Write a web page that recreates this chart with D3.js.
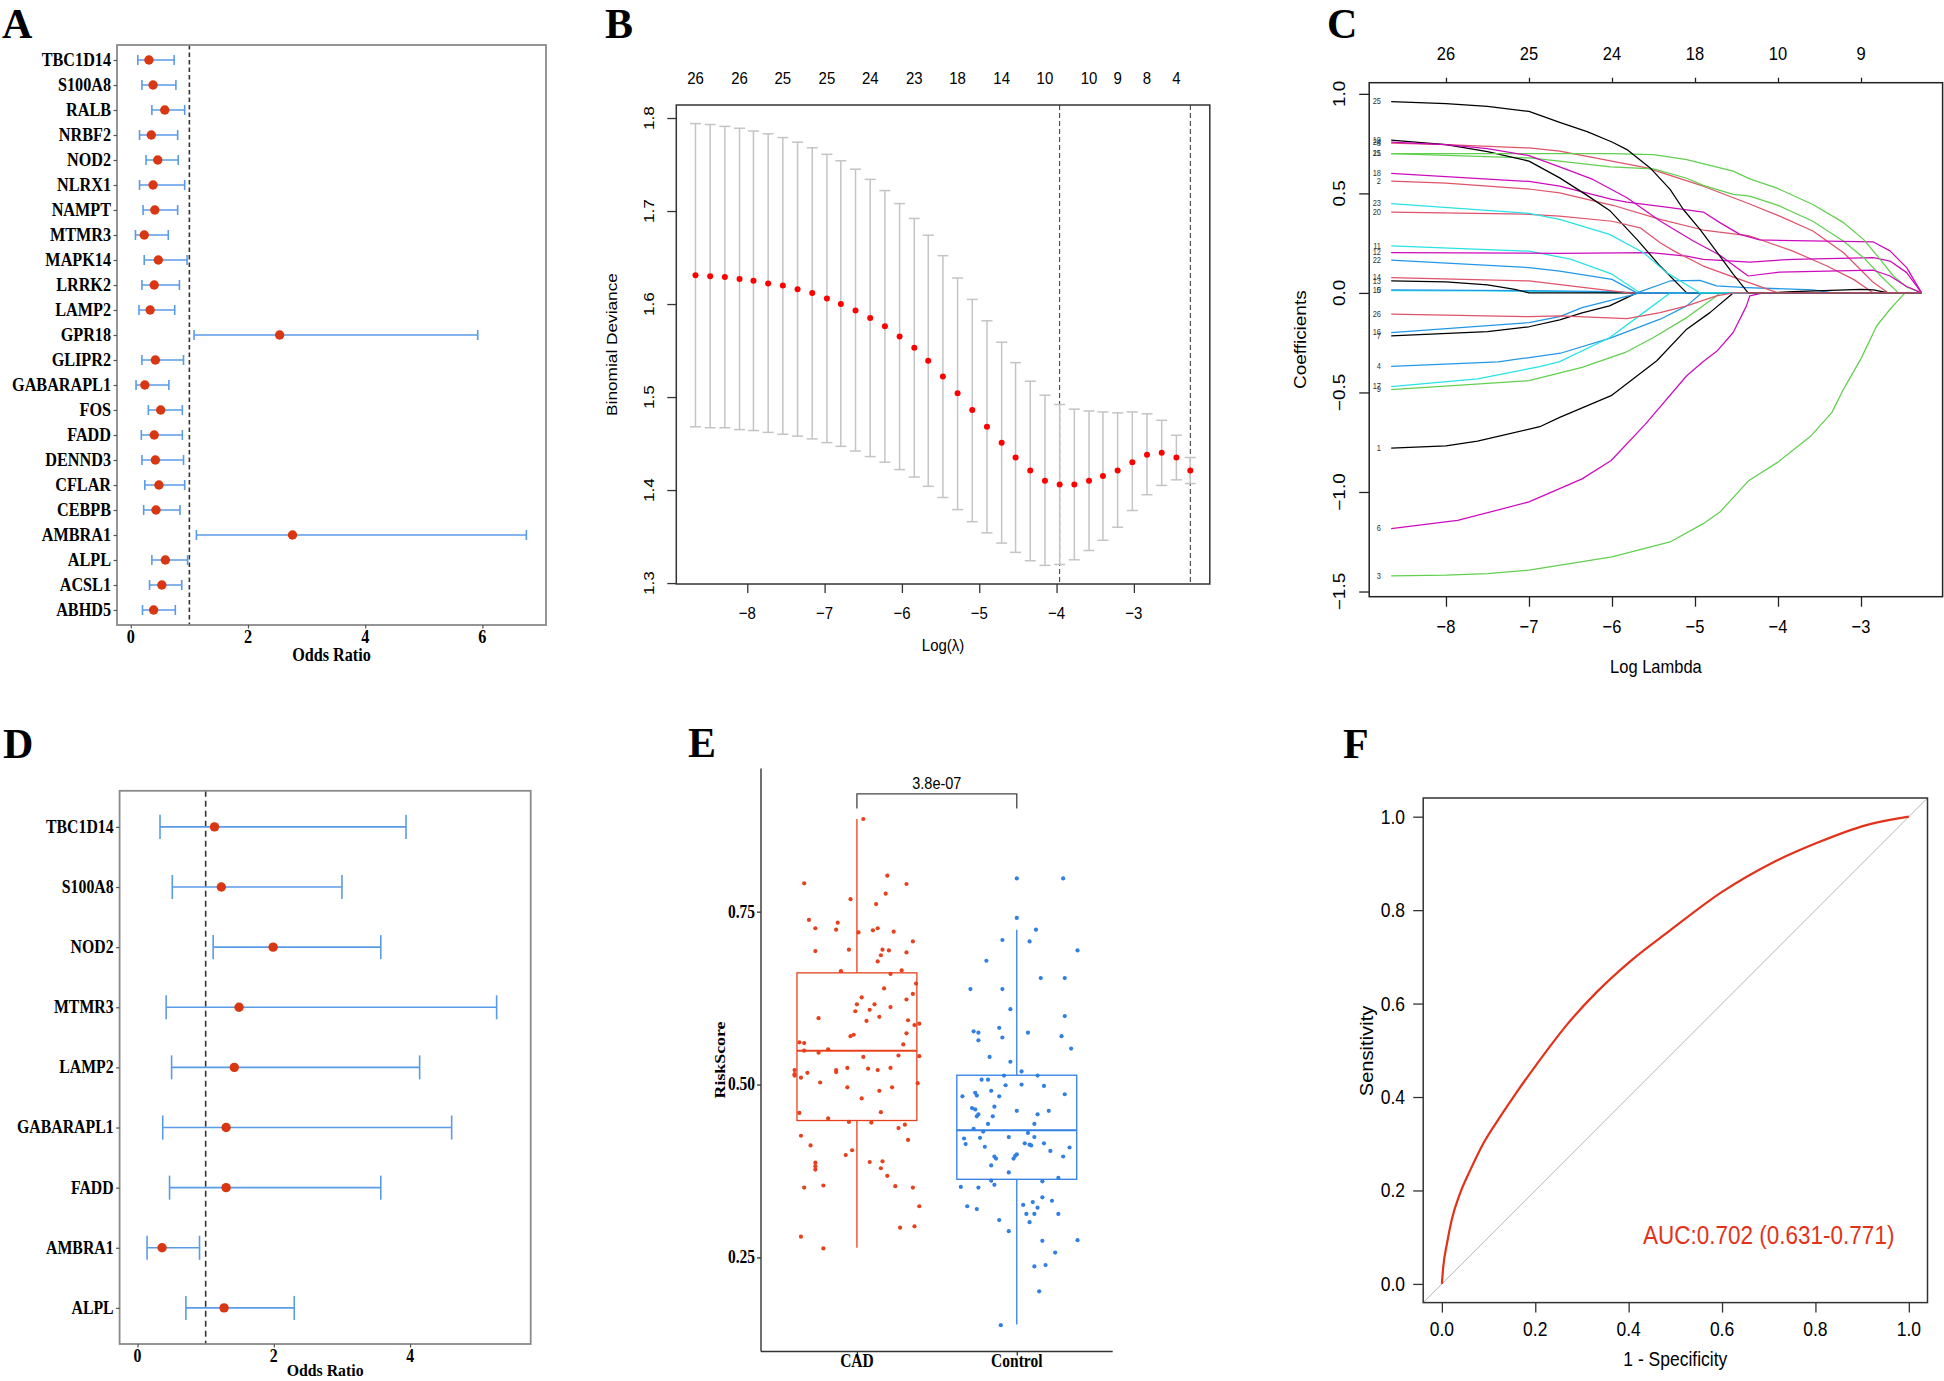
<!DOCTYPE html>
<html><head><meta charset="utf-8">
<script src="https://cdn.jsdelivr.net/npm/d3@7"></script>
<style>body{margin:0;background:#fff}svg{display:block}</style>
</head><body>
<svg id="fig" width="1944" height="1381"></svg>
<script>
// ---------------- DATA ----------------
// Panel A: univariate odds ratios
const aGenes = ["TBC1D14","S100A8","RALB","NRBF2","NOD2","NLRX1","NAMPT","MTMR3","MAPK14","LRRK2","LAMP2","GPR18","GLIPR2","GABARAPL1","FOS","FADD","DENND3","CFLAR","CEBPB","AMBRA1","ALPL","ACSL1","ABHD5"];
const aOR   = [0.31,0.38,0.58,0.35,0.46,0.38,0.41,0.23,0.47,0.40,0.33,2.54,0.42,0.24,0.51,0.40,0.42,0.48,0.43,2.76,0.59,0.53,0.39];
const aLow  = [0.12,0.19,0.36,0.15,0.26,0.15,0.21,0.08,0.23,0.19,0.14,1.08,0.19,0.09,0.30,0.18,0.19,0.24,0.22,1.12,0.36,0.32,0.20];
const aHigh = [0.74,0.77,0.92,0.80,0.81,0.92,0.80,0.64,0.96,0.83,0.75,5.92,0.90,0.65,0.88,0.88,0.90,0.92,0.84,6.75,0.97,0.87,0.76];
const aTicks = [0,2,4,6];

// Panel B: cross-validation curve
const bLogLambda = [-8.67,-8.48,-8.29,-8.10,-7.92,-7.73,-7.54,-7.35,-7.16,-6.97,-6.79,-6.60,-6.41,-6.22,-6.03,-5.84,-5.66,-5.47,-5.28,-5.09,-4.90,-4.71,-4.53,-4.34,-4.15,-3.96,-3.77,-3.58,-3.40,-3.21,-3.02,-2.83,-2.64,-2.45,-2.27];
const bMean  = [1.631,1.630,1.629,1.627,1.625,1.622,1.620,1.616,1.612,1.606,1.600,1.593,1.585,1.576,1.565,1.553,1.539,1.522,1.504,1.486,1.468,1.451,1.435,1.421,1.410,1.406,1.406,1.410,1.415,1.421,1.430,1.438,1.440,1.435,1.421];
const bUpper = [1.794,1.793,1.791,1.789,1.786,1.783,1.779,1.774,1.768,1.761,1.754,1.745,1.734,1.722,1.708,1.692,1.674,1.652,1.628,1.605,1.582,1.559,1.537,1.517,1.502,1.492,1.487,1.485,1.484,1.483,1.484,1.482,1.475,1.459,1.435];
const bLower = [1.468,1.467,1.467,1.465,1.464,1.462,1.460,1.458,1.455,1.451,1.447,1.442,1.436,1.430,1.422,1.414,1.404,1.392,1.379,1.366,1.354,1.343,1.333,1.324,1.319,1.320,1.325,1.335,1.346,1.360,1.378,1.395,1.405,1.411,1.407];
const bVLines = [-3.96,-2.27];
const bNzeroAt = [-8.67,-8.10,-7.54,-6.97,-6.41,-5.84,-5.28,-4.71,-4.15,-3.58,-3.21,-2.83,-2.45];
const bNzero = ["26","26","25","25","24","23","18","14","10","10","9","8","4"];
const bYTicks = [1.3,1.4,1.5,1.6,1.7,1.8];
const bXTicks = [-8,-7,-6,-5,-4,-3];

// Panel C: coefficient paths (variable 1..26), [logLambda, coefficient]
const cPaths = [
 [[-8.66,-0.78],[-8,-0.768],[-7.62,-0.745],[-6.87,-0.672],[-6.63,-0.625],[-6.01,-0.516],[-5.46,-0.341],[-5.10,-0.182],[-4.82,-0.099],[-4.54,0],[-2.27,0]],
 [[-8.66,0.561],[-8,0.551],[-7,0.522],[-6.63,0.503],[-5.98,0.439],[-5.42,0.369],[-4.90,0.316],[-4.34,0.286],[-3.82,0.21],[-3.41,0.135],[-3.09,0.068],[-2.85,0],[-2.27,0]],
 [[-8.66,-1.422],[-8,-1.418],[-7.5,-1.41],[-7.0,-1.393],[-6.0,-1.326],[-5.3,-1.251],[-4.9,-1.159],[-4.7,-1.101],[-4.35,-0.942],[-4.0,-0.85],[-3.6,-0.717],[-3.35,-0.6],[-3.21,-0.483],[-3.0,-0.33],[-2.81,-0.165],[-2.65,-0.082],[-2.47,0],[-2.27,0]],
 [[-8.66,-0.369],[-7.37,-0.346],[-6.62,-0.303],[-6.03,-0.228],[-5.42,-0.132],[-5.10,-0.065],[-4.92,0],[-2.27,0]],
 [[-8.66,0.012],[-7.5,0.01],[-6.5,0.006],[-6.0,0],[-2.27,0]],
 [[-8.66,-1.184],[-7.86,-1.143],[-7.0,-1.05],[-6.36,-0.934],[-6.01,-0.842],[-5.6,-0.66],[-5.1,-0.416],[-4.9,-0.345],[-4.73,-0.29],[-4.54,-0.199],[-4.38,-0.065],[-4.34,-0.015],[-4.18,0],[-2.27,0]],
 [[-8.66,-0.216],[-7.5,-0.195],[-7.0,-0.17],[-6.63,-0.135],[-6.36,-0.1],[-6.03,-0.065],[-5.7,0],[-2.27,0]],
 [[-8.66,0.752],[-8,0.745],[-7,0.728],[-6.63,0.712],[-5.58,0.628],[-4.90,0.536],[-4.38,0.453],[-3.98,0.386],[-3.58,0.311],[-3.21,0.202],[-3.01,0.119],[-2.85,0.052],[-2.67,0],[-2.27,0]],
 [[-8.66,-0.486],[-7.0,-0.441],[-6.36,-0.374],[-5.84,-0.299],[-5.5,-0.224],[-5.10,-0.124],[-4.74,-0.015],[-4.70,0],[-2.27,0]],
 [[-8.66,0.015],[-7,0.012],[-6,0.006],[-5.7,0],[-5.30,0.06],[-4.94,0.063],[-4.74,0.035],[-4.38,0.027],[-3.58,0.015],[-3.33,0],[-2.27,0]],
 [[-8.66,0.236],[-7,0.21],[-6.5,0.17],[-6.0,0.094],[-5.66,0],[-2.27,0]],
 [[-8.66,0.202],[-6.63,0.199],[-5.54,0.202],[-5.10,0.185],[-4.90,0.169],[-4.34,0.155],[-3.82,0.169],[-2.85,0.177],[-2.65,0.16],[-2.45,0.102],[-2.27,0]],
 [[-8.66,0.06],[-8,0.055],[-7.5,0.04],[-7.17,0.018],[-7.0,0],[-4.1,0],[-3.82,0.007],[-3.0,0.018],[-2.85,0.015],[-2.67,0],[-2.27,0]],
 [[-8.66,0.077],[-7,0.06],[-6.5,0.035],[-6,0.01],[-5.8,0],[-2.27,0]],
 [[-8.66,0.70],[-7,0.678],[-6.63,0.662],[-6.02,0.633],[-5.5,0.623],[-5.10,0.576],[-4.90,0.54],[-4.54,0.495],[-4.34,0.486],[-4.0,0.44],[-3.58,0.36],[-3.21,0.26],[-2.95,0.17],[-2.75,0.08],[-2.55,0],[-2.27,0]],
 [[-8.66,-0.199],[-7,-0.149],[-6.63,-0.119],[-6.36,-0.074],[-5.66,0],[-2.27,0]],
 [[-8.66,-0.471],[-7.62,-0.432],[-6.87,-0.37],[-6.63,-0.345],[-6.03,-0.225],[-5.62,-0.099],[-5.30,0],[-2.27,0]],
 [[-8.66,0.60],[-7,0.56],[-6.63,0.536],[-6,0.47],[-5.82,0.456],[-5.30,0.428],[-4.90,0.406],[-4.70,0.353],[-4.46,0.294],[-4.22,0.266],[-2.85,0.256],[-2.65,0.211],[-2.45,0.127],[-2.27,0]],
 [[-8.66,0.767],[-8,0.745],[-7.5,0.71],[-7,0.662],[-6.63,0.578],[-6.3,0.49],[-6.02,0.411],[-5.7,0.269],[-5.42,0.135],[-5.1,0],[-2.27,0]],
 [[-8.66,0.406],[-7,0.395],[-6.63,0.386],[-6,0.36],[-5.66,0.327],[-5.42,0.252],[-5.25,0.21],[-4.90,0.135],[-4.46,0.068],[-4.0,0],[-2.27,0]],
 [[-8.66,0.70],[-7,0.70],[-6.63,0.70],[-6.0,0.70],[-5.5,0.695],[-5.10,0.67],[-4.54,0.612],[-4.34,0.573],[-4.02,0.528],[-3.58,0.444],[-3.21,0.353],[-2.97,0.269],[-2.77,0.169],[-2.61,0.085],[-2.45,0.03],[-2.27,0]],
 [[-8.66,0.165],[-7,0.127],[-6.63,0.110],[-6,0.068],[-5.7,0],[-2.27,0]],
 [[-8.66,0.449],[-7,0.40],[-6.63,0.369],[-6.03,0.294],[-5.62,0.202],[-5.34,0.102],[-4.94,0],[-2.27,0]],
 [[-8.66,0.757],[-8,0.745],[-7.5,0.725],[-7,0.69],[-6.63,0.633],[-6.23,0.57],[-5.82,0.478],[-5.42,0.361],[-5.02,0.261],[-4.70,0.189],[-4.36,0.085],[-3.98,0.105],[-3.41,0.11],[-2.85,0.114],[-2.65,0.085],[-2.45,0.032],[-2.27,0]],
 [[-8.66,0.961],[-8,0.951],[-7.5,0.937],[-7,0.912],[-6.63,0.857],[-6.3,0.81],[-6,0.758],[-5.82,0.72],[-5.54,0.628],[-5.3,0.52],[-5.14,0.419],[-4.94,0.319],[-4.7,0.185],[-4.54,0.094],[-4.36,0],[-2.27,0]],
 [[-8.66,-0.107],[-7,-0.119],[-6.63,-0.115],[-5.82,-0.129],[-5.42,-0.099],[-5.10,-0.065],[-4.74,-0.015],[-4.54,0],[-2.27,0]]
];
const cXTicks = [-8,-7,-6,-5,-4,-3];
const cTopLabels = ["26","25","24","18","10","9"];
const cYTicks = [-1.5,-1.0,-0.5,0.0,0.5,1.0];

// Panel D: multivariate odds ratios
const dGenes = ["TBC1D14","S100A8","NOD2","MTMR3","LAMP2","GABARAPL1","FADD","AMBRA1","ALPL"];
const dOR   = [1.13,1.23,1.99,1.49,1.42,1.30,1.30,0.36,1.27];
const dLow  = [0.33,0.51,1.11,0.42,0.50,0.37,0.47,0.14,0.71];
const dHigh = [3.94,3.00,3.57,5.27,4.14,4.61,3.57,0.91,2.30];
const dTicks = [0,2,4];

// Panel E: risk score box plot
const eGroups = ["CAD","Control"];
const eWhiskLo = [0.264,0.153];
const eQ1      = [0.448,0.363];
const eMedian  = [0.549,0.434];
const eQ3      = [0.6615,0.5135];
const eWhiskHi = [0.884,0.724];
const ePValue = "3.8e-07";
const eYTicks = [0.25,0.50,0.75];
const cadScore = [0.884,0.791,0.802,0.790,0.768,0.776,0.761,0.738,0.734,0.726,
 0.724,0.720,0.723,0.726,0.721,0.707,0.693,0.695,0.695,0.694,
 0.691,0.687,0.678,0.664,0.665,0.660,0.646,0.639,0.631,0.626,
 0.623,0.616,0.616,0.606,0.608,0.612,0.596,0.592,0.598,0.593,
 0.586,0.588,0.574,0.572,0.570,0.561,0.560,0.558,0.549,0.551,
 0.546,0.540,0.542,0.541,0.521,0.515,0.513,0.517,0.510,0.521,
 0.518,0.524,0.523,0.521,0.524,0.503,0.502,0.496,0.496,0.491,
 0.480,0.459,0.451,0.460,0.446,0.445,0.442,0.437,0.426,0.420,
 0.412,0.398,0.405,0.387,0.382,0.377,0.388,0.389,0.379,0.368,
 0.351,0.354,0.353,0.351,0.324,0.293,0.295,0.280,0.263];
const cadJitter = [0.04,-0.33,0.19,0.31,-0.04,0.18,0.12,-0.30,-0.12,-0.26,
 -0.13,0.01,0.10,0.13,0.23,0.35,-0.26,-0.05,0.16,0.20,
 0.31,0.15,0.13,-0.10,0.28,0.21,0.37,0.17,0.35,0.03,
 0.31,0.00,0.11,-0.01,0.08,0.21,-0.24,0.06,0.14,0.32,
 0.36,0.39,0.31,-0.02,-0.04,-0.36,-0.33,0.29,-0.33,-0.18,
 -0.24,0.04,0.26,0.39,-0.39,-0.39,-0.39,-0.31,-0.35,-0.13,
 -0.13,-0.06,0.07,0.13,0.21,-0.23,0.38,-0.06,0.22,0.14,
 0.03,-0.36,-0.18,0.15,-0.05,0.09,0.30,0.26,-0.35,0.32,
 -0.29,-0.07,-0.03,-0.26,-0.26,-0.26,0.08,0.16,0.15,0.19,
 -0.33,-0.21,0.24,0.35,0.39,0.27,0.36,-0.35,-0.21];
const ctrlScore = [0.798,0.798,0.741,0.709,0.724,0.707,0.694,0.679,0.654,0.654,
 0.638,0.638,0.609,0.599,0.582,0.577,0.575,0.575,0.568,0.570,
 0.564,0.552,0.540,0.533,0.519,0.513,0.513,0.507,0.507,0.499,
 0.500,0.498,0.483,0.488,0.484,0.491,0.483,0.486,0.466,0.464,
 0.468,0.462,0.462,0.454,0.457,0.454,0.457,0.443,0.443,0.436,
 0.432,0.430,0.422,0.423,0.424,0.424,0.414,0.410,0.415,0.413,
 0.412,0.415,0.404,0.409,0.396,0.399,0.397,0.393,0.393,0.396,
 0.383,0.373,0.361,0.355,0.360,0.365,0.352,0.351,0.326,0.330,
 0.337,0.332,0.322,0.324,0.320,0.313,0.313,0.313,0.301,0.304,
 0.288,0.274,0.275,0.257,0.237,0.239,0.201,0.152];
const ctrlJitter = [0.00,0.29,0.00,-0.09,0.12,0.08,0.38,-0.19,0.15,0.30,
 -0.29,-0.09,-0.04,0.30,-0.11,-0.27,-0.24,0.07,-0.09,0.28,
 -0.24,0.34,-0.17,-0.04,0.03,-0.08,0.13,-0.22,-0.18,-0.07,
 0.03,0.17,-0.34,-0.26,-0.25,-0.16,-0.11,0.30,-0.28,-0.26,
 -0.14,0.00,0.20,-0.25,-0.24,-0.15,0.13,-0.18,0.11,-0.27,
 -0.21,0.07,-0.33,-0.23,-0.05,0.11,-0.32,-0.20,0.05,0.08,
 0.09,0.17,0.21,0.33,-0.14,0.00,-0.01,-0.13,-0.02,0.29,
 -0.16,-0.05,-0.16,-0.14,0.16,0.26,-0.35,-0.24,0.04,0.10,
 0.16,0.22,0.13,-0.31,-0.25,0.06,0.11,0.26,0.08,-0.11,
 -0.05,0.16,0.38,0.24,0.11,0.18,0.14,-0.10];

// Panel F: ROC curve
const fFPR = [0,0.003,0.011,0.021,0.039,0.061,0.089,0.125,0.160,0.203,0.268,0.332,0.404,0.488,0.600,0.707,0.801,0.909,1.0];
const fTPR = [0,0.037,0.087,0.137,0.194,0.244,0.301,0.358,0.410,0.470,0.555,0.625,0.691,0.756,0.839,0.901,0.943,0.982,1.0];
const fTicks = [0,0.2,0.4,0.6,0.8,1.0];
const fAUC = "AUC:0.702 (0.631-0.771)";

// ---------------- DRAWING ----------------
const SERIF = "'Liberation Serif','Times New Roman',Times,serif";
const SANS = "'Liberation Sans',Arial,Helvetica,sans-serif";
const STRETCH = 1.15;
const svg = d3.select('#fig');
svg.append('rect').attr('width',1944).attr('height',1381).attr('fill','#fff');

function txt(g, x, y, s, o = {}) {
  const rot = o.rot || 0;
  const st = o.stretch === undefined ? STRETCH : o.stretch;
  const sc = rot ? `scale(${st},1)` : `scale(1,${st})`;
  return g.append('text')
    .attr('transform', `translate(${x},${y}) rotate(${rot}) ${sc}`)
    .attr('text-anchor', o.anchor || 'middle')
    .attr('dominant-baseline', o.base || 'central')
    .style('font-family', o.font || SANS)
    .style('font-size', (o.size || 16) + 'px')
    .style('font-weight', o.weight || 'normal')
    .attr('fill', o.fill || '#000')
    .text(s);
}
function styleAxis(ax, color, w) {
  ax.select('.domain').remove();
  ax.selectAll('line').attr('stroke', color).attr('stroke-width', w);
}

// Panel letters
[["A",2,38],["B",605,38],["C",1327,38],["D",3,758],["E",688,757],["F",1343,758]].forEach(([s,x,y]) =>
  txt(svg, x, y, s, {font: SERIF, weight: 'bold', size: 42, anchor: 'start', base: 'alphabetic', stretch: 1}));

// ---- Forest plots (A and D) ----
function forest(c) {
  const g = svg.append('g');
  const x = d3.scaleLinear().domain(c.xDomain).range([c.l, c.r]);
  const y = d3.scalePoint().domain(c.genes).range([c.t, c.b]).padding(0.6);
  const cap = y.step() * 0.2;
  g.append('line').attr('x1', x(1)).attr('x2', x(1)).attr('y1', c.t).attr('y2', c.b)
    .attr('stroke', '#333').attr('stroke-width', 1.6).attr('stroke-dasharray', c.dash);
  c.genes.forEach((gn, i) => {
    const yy = y(gn);
    g.append('line').attr('x1', x(c.lo[i])).attr('x2', x(c.hi[i])).attr('y1', yy).attr('y2', yy)
      .attr('stroke', '#5A9BE8').attr('stroke-width', 1.6);
    [c.lo[i], c.hi[i]].forEach(v => g.append('line').attr('x1', x(v)).attr('x2', x(v))
      .attr('y1', yy - cap).attr('y2', yy + cap).attr('stroke', '#5A9BE8').attr('stroke-width', 1.6));
  });
  g.selectAll('circle').data(c.genes).join('circle')
    .attr('cx', (d, i) => x(c.or[i])).attr('cy', d => y(d)).attr('r', 4.7).attr('fill', '#D93711');
  g.append('rect').attr('x', c.l).attr('y', c.t).attr('width', c.r - c.l).attr('height', c.b - c.t)
    .attr('fill', 'none').attr('stroke', '#8a8a8a').attr('stroke-width', 1.8);
  const ay = g.append('g').attr('transform', `translate(${c.l},0)`).call(d3.axisLeft(y).tickSize(3.5).tickFormat(''));
  styleAxis(ay, '#555', 1.2);
  const ax = g.append('g').attr('transform', `translate(0,${c.b})`).call(d3.axisBottom(x).tickValues(c.ticks).tickSize(3.5).tickFormat(''));
  styleAxis(ax, '#555', 1.2);
  c.genes.forEach(gn => txt(g, c.l - 6, y(gn), gn, {font: SERIF, weight: 'bold', size: c.fs, anchor: 'end'}));
  c.ticks.forEach(v => txt(g, x(v), c.tickY, String(v), {font: SERIF, weight: 'bold', size: c.fs}));
  txt(g, (c.l + c.r) / 2, c.titleY, 'Odds Ratio', {font: SERIF, weight: 'bold', size: c.fs, stretch: c.titleStretch});
}
forest({genes: aGenes, or: aOR, lo: aLow, hi: aHigh, ticks: aTicks, xDomain: [-0.235, 7.085],
  l: 117, r: 546, t: 45, b: 625, dash: '4.5,3', fs: 16.2, tickY: 637, titleY: 655, titleStretch: 1.15});
forest({genes: dGenes, or: dOR, lo: dLow, hi: dHigh, ticks: dTicks, xDomain: [-0.263, 5.77],
  l: 119.6, r: 530.7, t: 790.8, b: 1344, dash: '6,4', fs: 15.8, tickY: 1356, titleY: 1370.5, titleStretch: 1.0});

// ---- Panel B ----
(function () {
  const g = svg.append('g');
  const L = 676.3, R = 1209.8, T = 105, B = 584;
  const x = d3.scaleLinear().domain([-8.918, -2.018]).range([L, R]);
  const y = d3.scaleLinear().domain([1.299, 1.814]).range([B, T]);
  bVLines.forEach(v => g.append('line').attr('x1', x(v)).attr('x2', x(v)).attr('y1', T).attr('y2', B)
    .attr('stroke', '#333').attr('stroke-width', 1).attr('stroke-dasharray', '5,3'));
  bLogLambda.forEach((l, i) => {
    g.append('line').attr('x1', x(l)).attr('x2', x(l)).attr('y1', y(bLower[i])).attr('y2', y(bUpper[i]))
      .attr('stroke', '#C4C4C4').attr('stroke-width', 1.5);
    [bLower[i], bUpper[i]].forEach(v => g.append('line').attr('x1', x(l) - 5.5).attr('x2', x(l) + 5.5)
      .attr('y1', y(v)).attr('y2', y(v)).attr('stroke', '#C4C4C4').attr('stroke-width', 1.5));
  });
  g.selectAll('circle').data(bLogLambda).join('circle')
    .attr('cx', d => x(d)).attr('cy', (d, i) => y(bMean[i])).attr('r', 3).attr('fill', '#FF0000');
  g.append('rect').attr('x', L).attr('y', T).attr('width', R - L).attr('height', B - T)
    .attr('fill', 'none').attr('stroke', '#333').attr('stroke-width', 1.5);
  const ay = g.append('g').attr('transform', `translate(${L},0)`).call(d3.axisLeft(y).tickValues(bYTicks).tickSize(9).tickFormat(''));
  styleAxis(ay, '#333', 1.3);
  const ax = g.append('g').attr('transform', `translate(0,${B})`).call(d3.axisBottom(x).tickValues(bXTicks).tickSize(9).tickFormat(''));
  styleAxis(ax, '#333', 1.3);
  const f1 = d3.format('.1f'), fd = d3.format('d');
  bYTicks.forEach(v => txt(g, 648.6, y(v), f1(v), {rot: -90, size: 15}));
  bXTicks.forEach(v => txt(g, x(v), 612.3, fd(v), {size: 15}));
  bNzeroAt.forEach((v, i) => txt(g, x(v), 77.7, bNzero[i], {size: 15}));
  txt(g, 611, (T + B) / 2, 'Binomial Deviance', {rot: -90, size: 15});
  txt(g, (L + R) / 2, 645, 'Log(λ)', {size: 15});
})();

// ---- Panel C ----
(function () {
  const g = svg.append('g');
  const L = 1369.2, R = 1942.6, T = 82.7, B = 596.7;
  const x = d3.scaleLinear().domain([-8.925, -2.017]).range([L, R]);
  const y = d3.scaleLinear().domain([-1.526, 1.056]).range([B, T]);
  const pal = ['#000000', '#DF536B', '#61D04F', '#2297E6', '#28E2E5', '#CD0BBC'];
  const line = d3.line().x(d => x(d[0])).y(d => y(d[1]));
  cPaths.forEach((p, i) => g.append('path').attr('d', line(p)).attr('fill', 'none')
    .attr('stroke', pal[i % 6]).attr('stroke-width', 1.25).attr('stroke-linejoin', 'round'));
  cPaths.forEach((p, i) => txt(g, 1381, y(p[0][1]), String(i + 1), {size: 7.5, anchor: 'end', fill: '#333'}));
  g.append('rect').attr('x', L).attr('y', T).attr('width', R - L).attr('height', B - T)
    .attr('fill', 'none').attr('stroke', '#222').attr('stroke-width', 1.5);
  const ay = g.append('g').attr('transform', `translate(${L},0)`).call(d3.axisLeft(y).tickValues(cYTicks).tickSize(10).tickFormat(''));
  styleAxis(ay, '#222', 1.3);
  const ax = g.append('g').attr('transform', `translate(0,${B})`).call(d3.axisBottom(x).tickValues(cXTicks).tickSize(10).tickFormat(''));
  styleAxis(ax, '#222', 1.3);
  const at = g.append('g').attr('transform', `translate(0,${T})`).call(d3.axisTop(x).tickValues(cXTicks).tickSize(5).tickFormat(''));
  styleAxis(at, '#222', 1.3);
  const f1 = d3.format('.1f'), fd = d3.format('d');
  cYTicks.forEach(v => txt(g, 1339, y(v), f1(v), {rot: -90, size: 16.5}));
  cXTicks.forEach((v, i) => {
    txt(g, x(v), 626.7, fd(v), {size: 16.5});
    txt(g, x(v), 54, cTopLabels[i], {size: 16.5});
  });
  txt(g, 1300.5, (T + B) / 2, 'Coefficients', {rot: -90, size: 16.5});
  txt(g, (L + R) / 2, 666.7, 'Log Lambda', {size: 16.5});
})();

// ---- Panel E ----
(function () {
  const g = svg.append('g');
  const L = 761, R = 1112.7, T = 768.5, B = 1351.5;
  const x = d3.scalePoint().domain(eGroups).range([L, R]).padding(0.6);
  const y = d3.scaleLinear().domain([0.114, 0.957]).range([B, T]);
  const cols = ['#E8401C', '#2F7FE5'];
  const hw = x.step() * 0.375;
  eGroups.forEach((grp, i) => {
    const cx = x(grp);
    g.append('line').attr('x1', cx).attr('x2', cx).attr('y1', y(eWhiskLo[i])).attr('y2', y(eQ1[i])).attr('stroke', cols[i]).attr('stroke-width', 1.3);
    g.append('line').attr('x1', cx).attr('x2', cx).attr('y1', y(eQ3[i])).attr('y2', y(eWhiskHi[i])).attr('stroke', cols[i]).attr('stroke-width', 1.3);
    g.append('rect').attr('x', cx - hw).attr('y', y(eQ3[i])).attr('width', 2 * hw).attr('height', y(eQ1[i]) - y(eQ3[i]))
      .attr('fill', '#fff').attr('stroke', cols[i]).attr('stroke-width', 1.3);
    g.append('line').attr('x1', cx - hw).attr('x2', cx + hw).attr('y1', y(eMedian[i])).attr('y2', y(eMedian[i]))
      .attr('stroke', cols[i]).attr('stroke-width', 2);
  });
  const step = x.step();
  g.append('g').selectAll('circle').data(cadScore).join('circle')
    .attr('cx', (d, i) => x('CAD') + cadJitter[i] * step).attr('cy', d => y(d)).attr('r', 2.1).attr('fill', cols[0]);
  g.append('g').selectAll('circle').data(ctrlScore).join('circle')
    .attr('cx', (d, i) => x('Control') + ctrlJitter[i] * step).attr('cy', d => y(d)).attr('r', 2.1).attr('fill', cols[1]);
  g.append('line').attr('x1', L).attr('x2', L).attr('y1', T).attr('y2', B).attr('stroke', '#333').attr('stroke-width', 1.4);
  g.append('line').attr('x1', L).attr('x2', R).attr('y1', B).attr('y2', B).attr('stroke', '#333').attr('stroke-width', 1.4);
  const ay = g.append('g').attr('transform', `translate(${L},0)`).call(d3.axisLeft(y).tickValues(eYTicks).tickSize(4).tickFormat(''));
  styleAxis(ay, '#333', 1.3);
  const ax = g.append('g').attr('transform', `translate(0,${B})`).call(d3.axisBottom(x).tickSize(4).tickFormat(''));
  styleAxis(ax, '#333', 1.3);
  const f2 = d3.format('.2f');
  eYTicks.forEach(v => txt(g, 755, y(v), f2(v), {font: SERIF, weight: 'bold', size: 15.5, anchor: 'end'}));
  eGroups.forEach(grp => txt(g, x(grp), 1361, grp, {font: SERIF, weight: 'bold', size: 15.5}));
  txt(g, 720, (T + B) / 2, 'RiskScore', {font: SERIF, weight: 'bold', size: 15.5, rot: -90});
  const x1 = x('CAD'), x2 = x('Control');
  g.append('path').attr('d', `M${x1},808.5V793.8H${x2}V808.5`).attr('fill', 'none').attr('stroke', '#444').attr('stroke-width', 1.3);
  txt(g, (x1 + x2) / 2, 783, ePValue, {size: 14.5});
})();

// ---- Panel F ----
(function () {
  const g = svg.append('g');
  const L = 1423.2, R = 1927.5, T = 798, B = 1302.6;
  const x = d3.scaleLinear().domain([-0.04, 1.04]).range([L, R]);
  const y = d3.scaleLinear().domain([-0.04, 1.04]).range([B, T]);
  g.append('line').attr('x1', x(-0.04)).attr('y1', y(-0.04)).attr('x2', x(1.04)).attr('y2', y(1.04))
    .attr('stroke', '#B5B5B5').attr('stroke-width', 1);
  const roc = fFPR.map((v, i) => [v, fTPR[i]]);
  g.append('path').attr('d', d3.line().x(d => x(d[0])).y(d => y(d[1])).curve(d3.curveMonotoneX)(roc))
    .attr('fill', 'none').attr('stroke', '#E2321A').attr('stroke-width', 2.2);
  g.append('rect').attr('x', L).attr('y', T).attr('width', R - L).attr('height', B - T)
    .attr('fill', 'none').attr('stroke', '#333').attr('stroke-width', 1.5);
  const ay = g.append('g').attr('transform', `translate(${L},0)`).call(d3.axisLeft(y).tickValues(fTicks).tickSize(10).tickFormat(''));
  styleAxis(ay, '#333', 1.3);
  const ax = g.append('g').attr('transform', `translate(0,${B})`).call(d3.axisBottom(x).tickValues(fTicks).tickSize(10).tickFormat(''));
  styleAxis(ax, '#333', 1.3);
  const f1 = d3.format('.1f');
  fTicks.forEach(v => {
    txt(g, x(v), 1329, f1(v), {size: 17.5});
    txt(g, 1405, y(v), f1(v), {size: 17.5, anchor: 'end'});
  });
  txt(g, (L + R) / 2, 1358.7, '1 - Specificity', {size: 17.5});
  txt(g, 1366.5, 1051, 'Sensitivity', {size: 17.5, rot: -90});
  txt(g, x(0.70), y(0.105), fAUC, {size: 22.5, fill: '#E2321A'});
})();
</script>
</body></html>
